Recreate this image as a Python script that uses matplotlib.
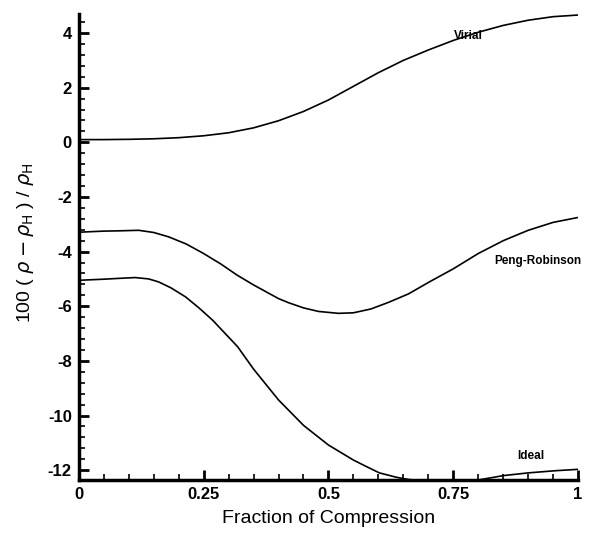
import matplotlib.pyplot as plt
import numpy as np
from matplotlib.ticker import MultipleLocator, FixedLocator

virial_x = [0.0, 0.05, 0.1, 0.15, 0.2, 0.25, 0.3, 0.35, 0.4, 0.45, 0.5, 0.55,
            0.6, 0.65, 0.7, 0.75, 0.8, 0.85, 0.9, 0.95, 1.0]
virial_y = [0.10, 0.10, 0.11, 0.13, 0.17, 0.24, 0.35, 0.53, 0.79, 1.13, 1.55, 2.05,
            2.55, 3.0, 3.38, 3.73, 4.03, 4.28, 4.47, 4.6, 4.66]

pr_x = [0.0, 0.05, 0.08, 0.12, 0.15, 0.18, 0.215, 0.25, 0.285, 0.317, 0.35, 0.4,
        0.42, 0.45, 0.48, 0.52, 0.55, 0.585, 0.62, 0.66, 0.703, 0.75, 0.8, 0.85,
        0.9, 0.95, 1.0]
pr_y = [-3.29, -3.25, -3.24, -3.22, -3.3, -3.46, -3.72, -4.07, -4.46, -4.86, -5.22, -5.72,
        -5.87, -6.06, -6.19, -6.26, -6.24, -6.1, -5.86, -5.55, -5.1, -4.63, -4.07, -3.6,
        -3.22, -2.93, -2.75]

ideal_x = [0.0, 0.05, 0.08, 0.113, 0.14, 0.16, 0.185, 0.214, 0.24, 0.268, 0.3, 0.318,
           0.35, 0.4, 0.45, 0.5, 0.55, 0.575, 0.602, 0.636, 0.66, 0.7, 0.75, 0.8,
           0.85, 0.9, 0.955, 1.0]
ideal_y = [-5.05, -5.01, -4.98, -4.95, -5.0, -5.11, -5.33, -5.66, -6.05, -6.51, -7.13, -7.48,
           -8.3, -9.43, -10.36, -11.08, -11.63, -11.86, -12.1, -12.26, -12.34, -12.42, -12.44, -12.36,
           -12.2, -12.1, -12.02, -11.97]

x_ticks = [0, 0.25, 0.5, 0.75, 1]
x_ticklabels = ["0", "0.25", "0.5", "0.75", "1"]
y_ticks = [4, 2, 0, -2, -4, -6, -8, -10, -12]

plt.rcParams['font.family'] = ['Liberation Sans', 'DejaVu Sans']
plt.rcParams['axes.unicode_minus'] = False

fig = plt.figure(figsize=(6.06, 5.36), dpi=100)
ax = fig.add_axes([0.130, 0.1045, 0.824, 0.8695])

for xs, ys in [(virial_x, virial_y), (pr_x, pr_y), (ideal_x, ideal_y)]:
    ax.plot(xs, ys, color='black', lw=1.2)

ax.set_xlim(0, 1)
ax.set_ylim(-12.36, 4.7)

ax.spines['top'].set_visible(False)
ax.spines['right'].set_visible(False)
for s in ['left', 'bottom']:
    ax.spines[s].set_linewidth(2.5)

ax.xaxis.set_major_locator(FixedLocator(x_ticks))
ax.set_xticklabels(x_ticklabels)
ax.xaxis.set_minor_locator(MultipleLocator(0.05))
ax.yaxis.set_major_locator(FixedLocator(y_ticks))
ax.yaxis.set_minor_locator(MultipleLocator(0.4))

ax.tick_params(which='major', direction='in', length=7, width=2, labelsize=12, pad=5)
ax.tick_params(which='minor', direction='in', length=4, width=1.2)
for lab in ax.get_xticklabels() + ax.get_yticklabels():
    lab.set_fontweight('bold')

ax.set_xlabel("Fraction of Compression", fontsize=14, labelpad=6)
ax.set_ylabel(r"100 ( $\rho - \rho_{\mathrm{H}}$ ) / $\rho_{\mathrm{H}}$", fontsize=14)
ax.yaxis.set_label_coords(-0.086, 0.51)

ax.text(0.78, 3.88, "Virial", fontsize=8.5, fontweight='bold', ha='center', va='center')
ax.text(0.92, -4.35, "Peng-Robinson", fontsize=8.5, fontweight='bold', ha='center', va='center')
ax.text(0.905, -11.5, "Ideal", fontsize=8.5, fontweight='bold', ha='center', va='center')

fig.savefig("out.png", dpi=100)
